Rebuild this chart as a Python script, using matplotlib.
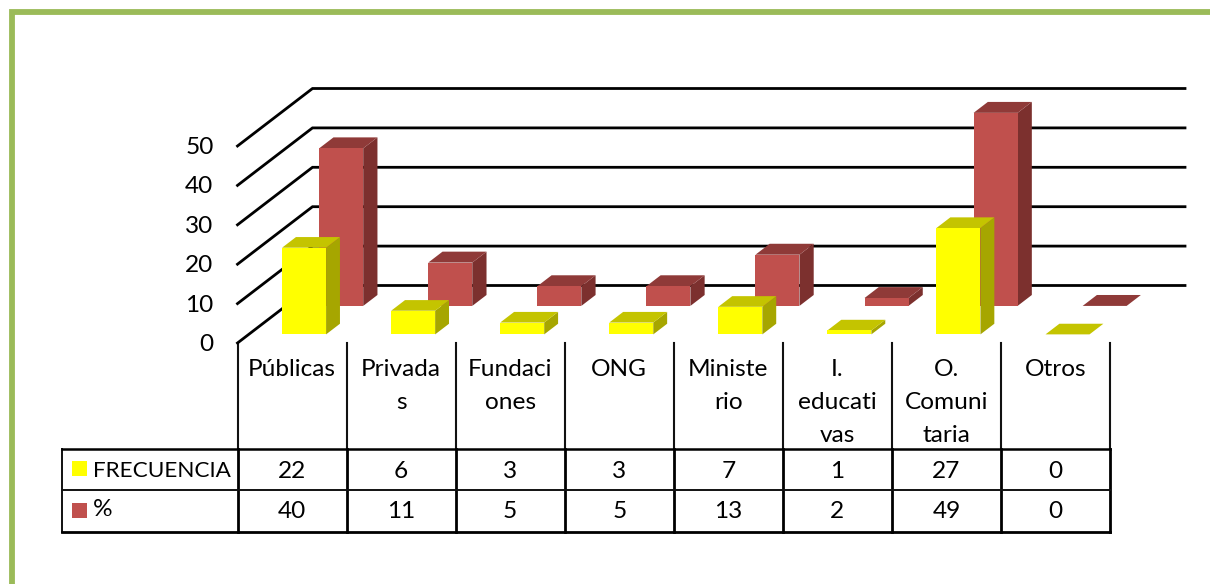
import matplotlib
matplotlib.use('Agg')
import matplotlib.pyplot as plt
from matplotlib.patches import Polygon, Rectangle

# Datos
categorias = ['Públicas', 'Privada\ns', 'Fundaci\nones', 'ONG', 'Ministe\nrio',
              'I.\neducati\nvas', 'O.\nComuni\ntaria', 'Otros']
frecuencia = [22, 6, 3, 3, 7, 1, 27, 0]
porcentaje = [40, 11, 5, 5, 13, 2, 49, 0]
ticks_y = [0, 10, 20, 30, 40, 50]
nombre_frec = 'FRECUENCIA'
nombre_pct = '%'

W, H = 1210, 584
plt.rcParams['font.family'] = ['Lato', 'DejaVu Sans']
TAM = 17.6

fig = plt.figure(figsize=(W / 100, H / 100), dpi=100, facecolor='white')

# Fondo en pixeles para el marco y la tabla
bg = fig.add_axes([0, 0, 1, 1])
bg.set_xlim(0, W)
bg.set_ylim(H, 0)
bg.axis('off')
bg.plot([12, 12, W], [H, 12, 12], color='#9BBB59', lw=4.2, solid_joinstyle='miter')

# Plano frontal del grafico: categorias en x, valores en y
x0, x1, y0, y50 = 237.5, 1110, 343, 146
ax = fig.add_axes([x0 / W, 1 - y0 / H, (x1 - x0) / W, (y0 - y50) / H])
ax.set_xlim(0, len(categorias))
ax.set_ylim(0, 50)
ax.axis('off')

# Profundidad en unidades de los ejes
px_x = len(categorias) / (x1 - x0)
px_y = 50 / (y0 - y50)
DX = 75 * px_x
DY = 57.5 * px_y
ANCHO = 44 * px_x


def punto(x, y, d):
    return (x + DX * d, y + DY * d)


# Paredes con lineas
fin = (1184.5 - 312) * px_x
for t in ticks_y:
    ax.plot([0, DX, DX + fin], [t, t + DY, t + DY], color='black', lw=2.0,
            clip_on=False, zorder=1, solid_joinstyle='miter')
    ax.text(-24 * px_x, t - 1.5 * px_y, str(t), ha='right', va='center', fontsize=TAM, clip_on=False)


def barra(i, v, d1, d2, c_frente, c_tapa, c_lado, z):
    xa = i + 0.5 - ANCHO / 2 + 0.8 * px_x
    xb = i + 0.5 + ANCHO / 2 + 0.8 * px_x
    if v > 0:
        ax.add_patch(Polygon([punto(xa, 0, d1), punto(xb, 0, d1), punto(xb, v, d1), punto(xa, v, d1)],
                             fc=c_frente, ec='none', clip_on=False, zorder=z + 1))
        ax.add_patch(Polygon([punto(xb, 0, d1), punto(xb, 0, d2), punto(xb, v, d2), punto(xb, v, d1)],
                             fc=c_lado, ec='none', clip_on=False, zorder=z))
    ax.add_patch(Polygon([punto(xa, v, d1), punto(xb, v, d1), punto(xb, v, d2), punto(xa, v, d2)],
                         fc=c_tapa, ec='none', clip_on=False, zorder=z))


for i, v in enumerate(porcentaje):
    barra(i, v, 0.645, 0.835, '#C0504D', '#8F3A38', '#7C302E', 3)
for i, v in enumerate(frecuencia):
    barra(i, v, 0.15, 0.335, '#FFFF00', '#C4C400', '#A6A600', 5)

# Tabla de datos
ty = [449, 490, 532]
izq = 62
ancho_col = (x1 - x0) / len(categorias)
for k in range(len(categorias) + 1):
    xk = x0 + k * ancho_col
    bg.plot([xk, xk], [y0, ty[0]], color='#111111', lw=1.5)
    bg.plot([xk, xk], [ty[0], ty[2]], color='black', lw=2.0)
bg.plot([izq, izq], [ty[0], ty[2]], color='#111111', lw=1.4)
bg.plot([izq, x1], [ty[0], ty[0]], color='black', lw=1.8)
bg.plot([izq, x1], [ty[1], ty[1]], color='#111111', lw=1.4)
bg.plot([izq, x1], [ty[2], ty[2]], color='black', lw=2.0)

for k, cat in enumerate(categorias):
    xc = x0 + (k + 0.5) * ancho_col
    bg.text(xc, 359, cat, ha='center', va='top', fontsize=TAM, linespacing=1.72)
    bg.text(xc, 471, str(frecuencia[k]), ha='center', va='center', fontsize=TAM)
    bg.text(xc, 512, str(porcentaje[k]), ha='center', va='center', fontsize=TAM)

bg.add_patch(Rectangle((72, 461), 15, 15, fc='#FFFF00', ec='none'))
bg.add_patch(Rectangle((72, 503), 15, 15, fc='#C0504D', ec='none'))
bg.text(93, 471, nombre_frec, ha='left', va='center', fontsize=16.2)
bg.text(93, 510, nombre_pct, ha='left', va='center', fontsize=TAM)

fig.savefig('out.png', dpi=100)
